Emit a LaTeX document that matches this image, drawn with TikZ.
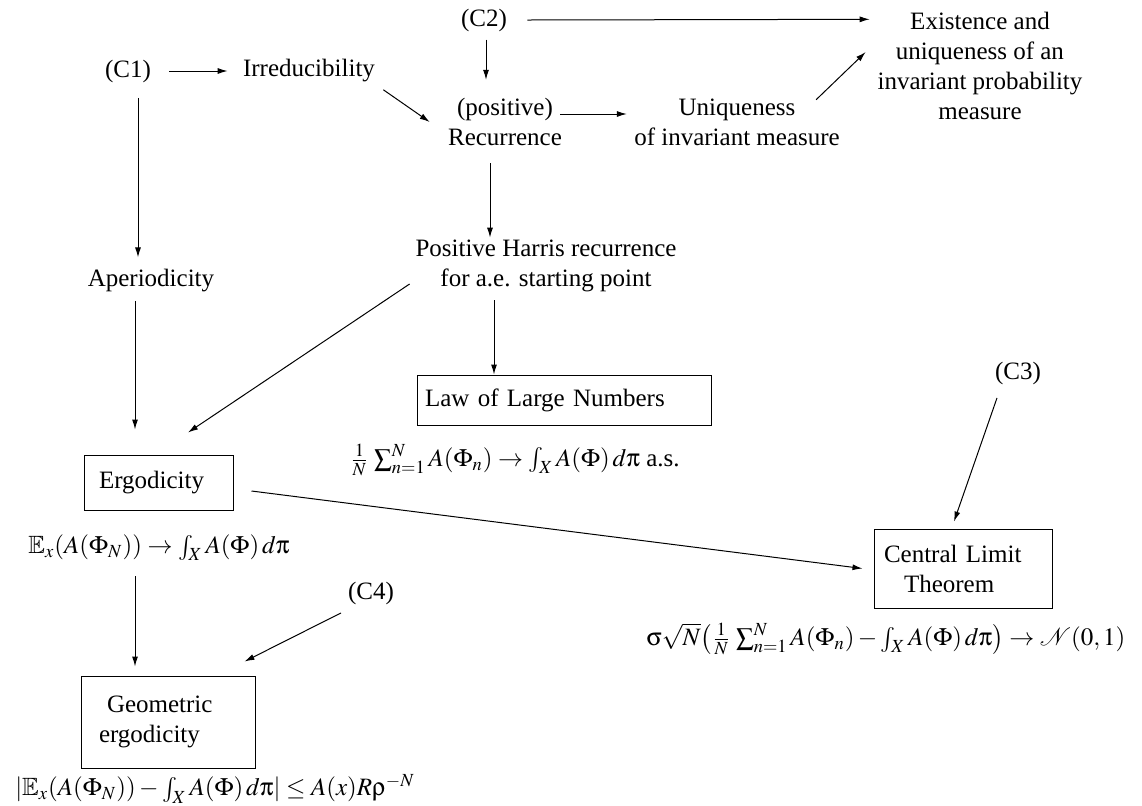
\documentclass[tikz,border=0pt]{standalone}
\usepackage{amssymb}
\usepackage{mathptmx}
\usepackage[Symbol]{upgreek}
\usepackage[no-math]{fontspec}
\setmainfont{Liberation Serif}
\usetikzlibrary{arrows.meta}

\begin{document}
\begin{tikzpicture}[x=0.5pt, y=-0.5pt,
  font=\fontsize{12.5}{15}\selectfont,
  lbl/.style={inner sep=0pt, align=center},
  box/.style={draw, line width=0.5pt, inner ysep=0pt, align=left},
  arr/.style={line width=0.5pt, -{Latex[length=5pt, width=3pt]}}]
\useasboundingbox (0,0) rectangle (1142,805);

\node[lbl] (c1) at (128,71) {(C1)};
\node[lbl] (irr) at (309,71) {Irreducibility};
\node[lbl] (c2) at (484,20) {(C2)};
\node[lbl] (rec) at (505,122) {(positive)\\Recurrence};
\node[lbl] (uniq) at (737,122) {Uniqueness\\of invariant measure};
\node[lbl] (exist) at (980,66) {Existence and\\uniqueness of an\\invariant probability\\measure};
\node[lbl] (aper) at (151,281) {Aperiodicity};
\node[lbl] (harris) at (546,266) {Positive Harris recurrence\\for a.e. starting point};

\node[box, text width=139pt, inner xsep=4pt, minimum height=25pt] (lln) at (564,400) {Law of Large Numbers};
\node[lbl] (llnf) at (515,460) {$\frac{1}{N}\,\sum_{n=1}^{N} A(\Phi_n) \rightarrow \int_X A(\Phi)\, d\uppi$ a.s.};

\node[box, text width=59.5pt, inner xsep=7.5pt, minimum height=27.5pt] (erg) at (158.5,482.5) {Ergodicity};
\node[lbl] (ergf) at (159,548) {$\mathbb{E}_x(A(\Phi_N)) \rightarrow \int_X A(\Phi)\, d\uppi$};

\node[lbl] (cthree) at (1018,373) {(C3)};
\node[box, text width=79pt, inner xsep=5pt, minimum height=39.5pt] (clt) at (963,568.5) {Central Limit\\\hspace*{10pt}Theorem};
\node[lbl] (cltf) at (886,639) {$\upsigma\sqrt{N}\bigl(\frac{1}{N}\,\sum_{n=1}^{N} A(\Phi_n) - \int_X A(\Phi)\, d\uppi\bigr) \rightarrow \mathcal{N}(0,1)$};

\node[lbl] (cfour) at (371,593) {(C4)};
\node[box, text width=69pt, inner xsep=9pt, minimum height=46pt] (geo) at (168,722) {\hspace*{4pt}Geometric\\ergodicity};
\node[lbl] (geof) at (215,789) {$|\mathbb{E}_x(A(\Phi_N)) - \int_X A(\Phi)\, d\uppi| \leq A(x) R \uprho^{-N}$};

\draw[arr] ([xshift=9pt]c1.east) -- ([xshift=-7.5pt]irr.west);
\draw[arr] ([shift={(4pt,-3.5pt)}]irr.south east) -- ([xshift=-9pt]rec.west);
\draw[arr] ([shift={(1pt,-4pt)}]c2.south) -- ([shift={(-9.5pt,9pt)}]rec.north);
\draw[arr] ([xshift=10pt]c2.east) -- ([shift={(-3.75pt,-3.75pt)}]exist.north west);
\draw[arr] ([shift={(-1pt,4pt)}]rec.east) -- ([shift={(-3.5pt,4pt)}]uniq.west);
\draw[arr] ([shift={(-12pt,-0.75pt)}]uniq.north east) -- ([shift={(-5.75pt,7pt)}]exist.west);
\draw[arr] ([shift={(5pt,-7.6pt)}]c1.south) -- ([shift={(-6.5pt,5.9pt)}]aper.north);
\draw[arr] ([shift={(-7.5pt,-8.5pt)}]rec.south) -- ([shift={(-28pt,1pt)}]harris.north);
\draw[arr] ([shift={(-8pt,-4pt)}]aper.south) -- ([shift={(-11.75pt,12.5pt)}]erg.north);
\draw[arr] ([shift={(-2.75pt,-9pt)}]harris.west) -- ([shift={(14.75pt,11pt)}]erg.north);
\draw[arr] ([shift={(-26pt,-4pt)}]harris.south) -- ([xshift=-35pt]lln.north);
\draw[arr] ([shift={(9pt,-4.25pt)}]erg.east) -- ([xshift=-5.5pt]clt.west);
\draw[arr] ([shift={(-10.5pt,-6.6pt)}]cthree.south) -- ([shift={(-4.5pt,3.5pt)}]clt.north);
\draw[arr] ([shift={(-12pt,-7.5pt)}]ergf.south) -- ([shift={(-16.5pt,4.5pt)}]geo.north);
\draw[arr] ([shift={(-15pt,-4.1pt)}]cfour.south) -- ([shift={(-5.5pt,7pt)}]geo.north east);
\end{tikzpicture}
\end{document}
